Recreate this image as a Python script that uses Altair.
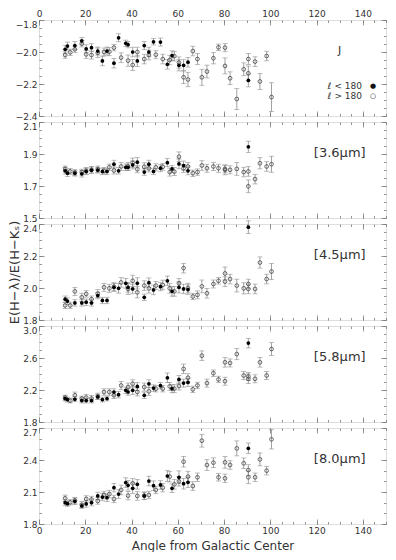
import altair as alt
import pandas as pd

FONT = "DejaVu Sans"

# Angles (degrees from Galactic Center)
FILLED_ANGLE = [11.3, 12.3, 15.5, 18.5, 20.4, 22.7, 25.4, 27.4, 29.4, 32.4, 34.4, 37.5, 38.5,
                40.5, 42.5, 45.5, 47.5, 49.5, 52.5, 55.5, 57.5, 60.5, 62.5, 64.4, 90.5]
OPEN_ANGLE = [11.3, 13.5, 15.5, 18.5, 20.4, 22.7, 25.4, 28.1, 30.4, 32.4, 35.5, 38.5, 40.5, 42.5,
              45.5, 47.5, 50.5, 53.5, 56.5, 58.5, 60.5, 62.5, 64.4, 66.5, 68.5, 70.4, 72.6, 75.4,
              77.6, 80.4, 80.4, 82.6, 85.5, 88.5, 90.5, 90.5, 93.4, 95.5, 98.4, 100.5]

BANDS = ["J", "[3.6μm]", "[4.5μm]", "[5.8μm]", "[8.0μm]"]

# l < 180 (filled)
J_F = [-1.983, -1.963, -1.96, -1.93, -1.98, -1.973, -1.994, -2.056, -1.994, -2.07, -1.911, -1.946, -1.954,
       -2.0, -2.056, -1.96, -2.0, -1.936, -1.938, -2.077, -2.023, -2.083, -2.083, -2.064, -2.178]
I1_F = [1.795, 1.780, 1.780, 1.776, 1.791, 1.799, 1.799, 1.791, 1.791, 1.836, 1.795, 1.817, 1.817,
        1.832, 1.849, 1.787, 1.836, 1.791, 1.811, 1.846, 1.807, 1.838, 1.828, 1.795, 1.945]
I2_F = [1.930, 1.918, 1.907, 1.907, 1.911, 1.907, 1.953, 1.922, 1.922, 2.004, 1.998, 2.029, 2.004,
        1.994, 2.029, 1.942, 2.033, 1.988, 2.008, 2.045, 1.979, 2.004, 1.994, 1.990, 2.38]
I3_F = [2.093, 2.080, 2.084, 2.068, 2.068, 2.068, 2.113, 2.080, 2.093, 2.175, 2.142, 2.196, 2.175,
        2.196, 2.245, 2.134, 2.278, 2.224, 2.254, 2.353, 2.216, 2.332, 2.286, 2.295, 2.786]
I4_F = [2.0, 1.991, 2.013, 1.969, 1.988, 2.0, 2.063, 2.053, 2.047, 2.141, 2.081, 2.188, 2.163,
        2.135, 2.172, 2.063, 2.203, 2.159, 2.166, 2.25, 2.135, 2.238, 2.178, 2.191, 2.509]

J_F_ERR = [0.025, 0.025, 0.025, 0.02, 0.025, 0.025, 0.025, 0.03, 0.025, 0.03, 0.025, 0.02, 0.02,
           0.03, 0.035, 0.025, 0.03, 0.02, 0.025, 0.03, 0.03, 0.035, 0.035, 0.03, 0.04]
I1_F_ERR = [0.02, 0.02, 0.018, 0.02, 0.02, 0.02, 0.018, 0.02, 0.02, 0.025, 0.02, 0.02, 0.02,
            0.025, 0.03, 0.02, 0.025, 0.02, 0.022, 0.025, 0.022, 0.03, 0.028, 0.025, 0.035]
I2_F_ERR = [0.02, 0.02, 0.02, 0.02, 0.02, 0.02, 0.02, 0.02, 0.02, 0.025, 0.03, 0.03, 0.03,
            0.03, 0.035, 0.02, 0.03, 0.03, 0.025, 0.03, 0.03, 0.035, 0.03, 0.03, 0.04]
I3_F_ERR = [0.03, 0.03, 0.03, 0.03, 0.03, 0.03, 0.03, 0.03, 0.03, 0.04, 0.04, 0.04, 0.04,
            0.05, 0.05, 0.04, 0.05, 0.04, 0.04, 0.06, 0.05, 0.05, 0.05, 0.05, 0.06]
I4_F_ERR = [0.025, 0.025, 0.03, 0.02, 0.03, 0.03, 0.035, 0.035, 0.035, 0.04, 0.04, 0.045, 0.045,
            0.05, 0.045, 0.035, 0.045, 0.045, 0.04, 0.05, 0.04, 0.06, 0.05, 0.05, 0.05]

# l > 180 (open)
J_O = [-2.019, -2.002, -1.983, -1.948, -2.015, -2.019, -2.005, -2.0, -1.998, -1.973, -2.035, -2.054,
       -2.081, -2.0, -2.044, -2.019, -2.017, -2.044, -2.05, -2.026, -2.066, -2.158, -2.172, -1.994,
       -2.044, -2.158, -2.122, -2.039, -1.971, -1.973, -2.087, -2.164, -2.294, -2.108, -2.044, -2.133,
       -2.06, -2.184, -2.025, -2.282]
I1_O = [1.807, 1.791, 1.784, 1.787, 1.795, 1.802, 1.805, 1.795, 1.817, 1.797, 1.822, 1.822, 1.845,
        1.805, 1.82, 1.81, 1.817, 1.82, 1.787, 1.79, 1.883, 1.81, 1.822, 1.780, 1.787, 1.828, 1.811,
        1.822, 1.811, 1.807, 1.800, 1.801, 1.807, 1.787, 1.791, 1.698, 1.743, 1.842, 1.822, 1.836]
I2_O = [1.891, 1.891, 1.979, 1.942, 1.963, 1.93, 1.965, 2.004, 1.998, 2.008, 2.035, 1.994, 2.045,
        1.973, 2.015, 1.998, 2.015, 2.019, 1.998, 1.979, 2.029, 2.124, 2.0, 1.947, 1.957, 2.010, 1.967,
        2.025, 2.045, 2.091, 2.04, 2.056, 2.015, 1.998, 2.025, 1.994, 1.994, 2.159, 2.056, 2.103]
I3_O = [2.105, 2.068, 2.134, 2.093, 2.105, 2.093, 2.121, 2.175, 2.175, 2.134, 2.257, 2.237, 2.278,
        2.175, 2.237, 2.183, 2.216, 2.216, 2.245, 2.216, 2.25, 2.464, 2.353, 2.208, 2.257, 2.629, 2.286,
        2.410, 2.332, 2.546, 2.31, 2.538, 2.649, 2.381, 2.369, 2.34, 2.34, 2.546, 2.381, 2.712]
I4_O = [2.041, 2.003, 2.02, 1.98, 2.035, 2.03, 2.016, 2.072, 2.081, 2.035, 2.119, 2.066, 2.181,
        2.063, 2.066, 2.072, 2.119, 2.141, 2.244, 2.172, 2.2, 2.384, 2.244, 2.156, 2.238, 2.581, 2.353,
        2.375, 2.238, 2.378, 2.228, 2.353, 2.509, 2.369, 2.306, 2.238, 2.238, 2.406, 2.3, 2.594]

J_O_ERR = [0.02, 0.02, 0.02, 0.02, 0.025, 0.025, 0.03, 0.025, 0.025, 0.02, 0.03, 0.035, 0.035, 0.03,
           0.03, 0.03, 0.025, 0.03, 0.03, 0.03, 0.035, 0.04, 0.045, 0.03, 0.035, 0.05, 0.04, 0.035,
           0.02, 0.025, 0.05, 0.04, 0.065, 0.04, 0.035, 0.045, 0.03, 0.05, 0.03, 0.09]
I1_O_ERR = [0.018, 0.018, 0.018, 0.018, 0.02, 0.02, 0.02, 0.02, 0.02, 0.022, 0.025, 0.025, 0.03,
            0.022, 0.025, 0.022, 0.022, 0.022, 0.025, 0.025, 0.03, 0.025, 0.025, 0.02, 0.02, 0.03,
            0.025, 0.025, 0.025, 0.025, 0.03, 0.025, 0.04, 0.03, 0.03, 0.04, 0.03, 0.035, 0.03, 0.05]
I2_O_ERR = [0.02, 0.02, 0.025, 0.025, 0.02, 0.02, 0.025, 0.025, 0.025, 0.025, 0.03, 0.035, 0.035,
            0.035, 0.03, 0.03, 0.025, 0.03, 0.03, 0.03, 0.03, 0.03, 0.03, 0.02, 0.025, 0.04, 0.03,
            0.025, 0.02, 0.04, 0.03, 0.03, 0.04, 0.035, 0.03, 0.03, 0.03, 0.035, 0.03, 0.05]
I3_O_ERR = [0.03, 0.03, 0.04, 0.03, 0.04, 0.04, 0.04, 0.04, 0.04, 0.04, 0.05, 0.05, 0.05, 0.05,
            0.05, 0.05, 0.04, 0.04, 0.05, 0.05, 0.05, 0.06, 0.05, 0.04, 0.04, 0.06, 0.05, 0.04,
            0.04, 0.06, 0.05, 0.05, 0.07, 0.05, 0.05, 0.06, 0.05, 0.06, 0.05, 0.08]
I4_O_ERR = [0.03, 0.025, 0.03, 0.03, 0.03, 0.03, 0.03, 0.035, 0.035, 0.035, 0.045, 0.04, 0.045,
            0.04, 0.035, 0.035, 0.035, 0.04, 0.05, 0.045, 0.045, 0.05, 0.05, 0.04, 0.04, 0.06, 0.05,
            0.045, 0.035, 0.055, 0.04, 0.04, 0.07, 0.05, 0.05, 0.06, 0.04, 0.06, 0.04, 0.09]

FILLED = [J_F, I1_F, I2_F, I3_F, I4_F]
FILLED_ERR = [J_F_ERR, I1_F_ERR, I2_F_ERR, I3_F_ERR, I4_F_ERR]
OPEN = [J_O, I1_O, I2_O, I3_O, I4_O]
OPEN_ERR = [J_O_ERR, I1_O_ERR, I2_O_ERR, I3_O_ERR, I4_O_ERR]

Y_DOMAINS = [[-2.4, -1.8], [1.5, 2.1], [1.8, 2.4], [1.8, 3.0], [1.8, 2.7]]
Y_MAJOR = [[-2.4, -2.2, -2.0, -1.8], [1.5, 1.7, 1.9, 2.1], [1.8, 2.0, 2.2, 2.4],
           [1.8, 2.2, 2.6, 3.0], [1.8, 2.1, 2.4, 2.7]]
Y_MINOR_STEP = [0.05, 0.05, 0.05, 0.1, 0.1]
X_MAJOR = [0, 20, 40, 60, 80, 100, 120, 140]
X_MINOR = [5 * k for k in range(31)]

LEGEND_TEXT = ["ℓ < 180", "ℓ > 180"]
LEGEND_SYM = ["●", "○"]

W, H = 347, 96
MAJ, MIN = 5, 2.5
TICK_COLOR = "#7a7a7a"
TEXT_COLOR = "#333333"


def axis(orient, values, size, labels=False, title=None, fmt=None, title_size=12, title_pad=4,
         top_value=None):
    d = dict(orient=orient, values=values, tickSize=size, offset=-size, domain=False, grid=False,
             labels=labels, ticks=True, tickColor=TICK_COLOR, tickWidth=0.8, title=title)
    if labels:
        d.update(labelFont=FONT, labelFontSize=9, labelColor=TEXT_COLOR, labelPadding=2,
                 labelFlush=False, labelOverlap=False)
        if top_value is not None:
            d["labelBaseline"] = {"condition": {"test": f"datum.value > {top_value - 1e-6}",
                                                "value": "top"},
                                  "value": "middle"}
    if fmt:
        d["format"] = fmt
    if title:
        d.update(titleFont=FONT, titleFontSize=title_size, titleFontWeight="normal",
                 titleColor=TEXT_COLOR, titlePadding=title_pad)
    return alt.Axis(**d)


def panel(i):
    first, last = i == 0, i == 4
    lo_d, hi_d = Y_DOMAINS[i]
    step = Y_MINOR_STEP[i]
    n = int(round((hi_d - lo_d) / step))
    y_minor = [round(lo_d + step * k, 3) for k in range(n + 1)]

    xsc = alt.Scale(domain=[0, 150], nice=False, zero=False)
    ysc = alt.Scale(domain=[lo_d, hi_d], nice=False, zero=False)

    fdf = pd.DataFrame({"angle": FILLED_ANGLE, "val": FILLED[i], "err": FILLED_ERR[i]})
    odf = pd.DataFrame({"angle": OPEN_ANGLE, "val": OPEN[i], "err": OPEN_ERR[i]})

    ytitle = "E(H−λ)/E(H−Kₛ)" if i == 2 else None
    xtitle = "Angle from Galactic Center" if last else None

    eb_f = alt.Chart(fdf).transform_calculate(
        lo="datum.val - datum.err", hi="datum.val + datum.err"
    ).mark_errorbar(ticks=True, size=5, thickness=0.8, color="#8a8a8a").encode(
        x=alt.X("angle:Q", scale=xsc,
                axis=axis("bottom", X_MAJOR, MAJ, labels=last, title=xtitle, fmt="d",
                          title_size=12, title_pad=5)),
        y=alt.Y("lo:Q", scale=ysc,
                axis=axis("left", Y_MAJOR[i], MAJ, labels=True, title=ytitle, fmt=".1f",
                          title_size=13, title_pad=1, top_value=hi_d)),
        y2="hi:Q",
    )
    eb_o = alt.Chart(odf).transform_calculate(
        lo="datum.val - datum.err", hi="datum.val + datum.err"
    ).mark_errorbar(ticks=True, size=5, thickness=0.8, color="#8a8a8a").encode(
        x=alt.X("angle:Q", scale=xsc, axis=axis("top", X_MAJOR, MAJ, labels=first, fmt="d")),
        y=alt.Y("lo:Q", scale=ysc, axis=axis("right", Y_MAJOR[i], MAJ)),
        y2="hi:Q",
    )
    pts_o = alt.Chart(odf).mark_point(filled=False, size=14, strokeWidth=0.8, color="#444444",
                                      opacity=1).encode(
        x=alt.X("angle:Q", scale=xsc, axis=axis("bottom", X_MINOR, MIN)),
        y=alt.Y("val:Q", scale=ysc, axis=axis("left", y_minor, MIN)),
    )
    pts_f = alt.Chart(fdf).mark_point(filled=True, size=14, color="#000000", opacity=1).encode(
        x=alt.X("angle:Q", scale=xsc, axis=axis("top", X_MINOR, MIN)),
        y=alt.Y("val:Q", scale=ysc, axis=axis("right", y_minor, MIN)),
    )
    label = alt.Chart(pd.DataFrame({"t": [BANDS[i]]})).mark_text(
        font=FONT, fontSize=11 if first else 13, color=TEXT_COLOR, align="center", baseline="middle"
    ).encode(x=alt.value(W * 130 / 150), y=alt.value(31), text="t:N")

    layers = [eb_f, eb_o, pts_o, pts_f, label]
    if first:
        leg = pd.DataFrame({"t": ["\n".join(LEGEND_TEXT)], "s": ["\n".join(LEGEND_SYM)]})
        leg_t = alt.Chart(leg).mark_text(
            font=FONT, fontSize=9, color=TEXT_COLOR, align="right", baseline="middle",
            lineBreak="\n", lineHeight=10
        ).encode(x=alt.value(323), y=alt.value(66), text="t:N")
        leg_s = alt.Chart(leg).mark_text(
            font=FONT, fontSize=7, color="#111111", align="center", baseline="middle",
            lineBreak="\n", lineHeight=10
        ).encode(x=alt.value(334), y=alt.value(66), text="s:N")
        layers += [leg_t, leg_s]

    return alt.layer(*layers).resolve_axis(x="independent", y="independent").properties(
        width=W, height=H)


chart = alt.vconcat(*[panel(i) for i in range(5)], spacing=6, bounds="flush").resolve_scale(
    x="independent", y="independent"
).resolve_axis(x="independent", y="independent").properties(
    padding={"left": 0, "right": 0, "top": 0, "bottom": 0},
    background="white",
).configure_view(stroke="#222222", strokeWidth=1).configure(font=FONT)

chart.save("out.html", embed_options={"renderer": "svg", "actions": False})
